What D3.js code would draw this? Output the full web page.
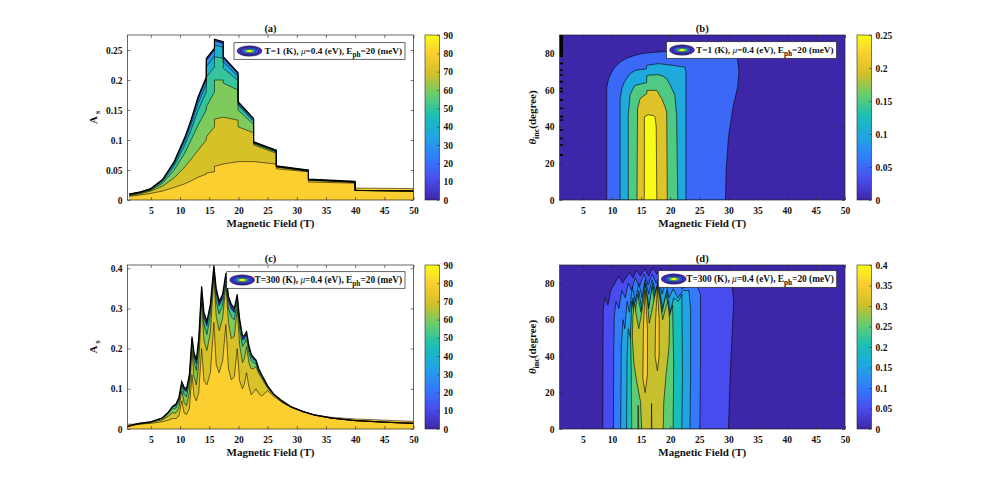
<!DOCTYPE html>
<html>
<head>
<meta charset="utf-8">
<script src="https://cdn.jsdelivr.net/npm/d3@7"></script>
<style>
body { margin: 0; background: #fff; }
text { font-family: "Liberation Serif", "Times New Roman", serif; font-weight: bold; }
</style>
</head>
<body>
<script>
// ---------- colormap (parula control points) ----------
const parulaStops = [0, 0.127, 0.254, 0.381, 0.508, 0.635, 0.762, 0.889, 1];
const parulaColors = ['#3e26a8', '#484df0', '#327cfc', '#20a5e3', '#19bfb6', '#64cd6f', '#d1bf27', '#fccf30', '#f9fb15'];
const parula = d3.scaleLinear().domain(parulaStops).range(parulaColors).clamp(true);

// ---------- panel (a): T = 1 K, A_s vs B for several angles ----------
const fieldA = [1.3, 3, 5, 7, 9, 10.8, 11.9, 13.1, 14.5, 14.5, 15.9, 15.9, 17.4, 17.4, 19.95, 19.95, 22.6, 22.6, 26.5, 26.5, 32, 32, 40, 40, 50];
const anglesA = [0, 30, 40, 50, 60, 70, 80];
const asA0  = [0.010, 0.013, 0.019, 0.034, 0.064, 0.104, 0.134, 0.172, 0.205, 0.236, 0.253, 0.268, 0.264, 0.239, 0.212, 0.164, 0.136, 0.097, 0.083, 0.057, 0.050, 0.035, 0.031, 0.016, 0.015];
const asA30 = [0.0098, 0.0128, 0.0187, 0.0335, 0.063, 0.102, 0.131, 0.168, 0.201, 0.232, 0.250, 0.265, 0.261, 0.236, 0.210, 0.162, 0.135, 0.096, 0.082, 0.056, 0.049, 0.034, 0.030, 0.016, 0.015];
const asA40 = [0.0095, 0.0125, 0.0183, 0.033, 0.061, 0.098, 0.126, 0.161, 0.193, 0.222, 0.240, 0.258, 0.255, 0.230, 0.206, 0.160, 0.133, 0.096, 0.082, 0.056, 0.049, 0.034, 0.030, 0.016, 0.015];
const asA50 = [0.009, 0.012, 0.0176, 0.031, 0.057, 0.091, 0.117, 0.150, 0.180, 0.205, 0.222, 0.239, 0.236, 0.220, 0.199, 0.158, 0.131, 0.095, 0.081, 0.056, 0.049, 0.034, 0.030, 0.016, 0.015];
const asA60 = [0.0085, 0.011, 0.0165, 0.028, 0.050, 0.078, 0.100, 0.125, 0.150, 0.155, 0.180, 0.200, 0.200, 0.195, 0.183, 0.150, 0.126, 0.094, 0.080, 0.055, 0.048, 0.033, 0.030, 0.016, 0.015];
const asA70 = [0.0075, 0.010, 0.015, 0.023, 0.037, 0.055, 0.068, 0.083, 0.100, 0.105, 0.122, 0.135, 0.138, 0.138, 0.133, 0.122, 0.112, 0.092, 0.078, 0.055, 0.048, 0.033, 0.029, 0.016, 0.015];
const asA80 = [0.006, 0.008, 0.011, 0.015, 0.021, 0.027, 0.032, 0.038, 0.043, 0.045, 0.047, 0.056, 0.060, 0.060, 0.064, 0.064, 0.064, 0.064, 0.060, 0.052, 0.047, 0.030, 0.028, 0.020, 0.019];

// ---------- panel (c): T = 300 K ----------
const fieldC = [1, 2, 3, 5, 7, 8, 8.7, 9.3, 9.8, 10.3, 10.7, 11.1, 11.6, 12.05, 12.4, 12.8, 13.2, 13.7, 14.1, 14.6, 15.2, 15.8, 16.2, 16.7, 17.3, 17.85, 18.3, 18.8, 19.3, 19.8, 20.2, 20.7, 21.0, 21.4, 21.8, 22.2, 22.6, 23.0, 23.5, 24, 25, 26, 27.5, 29, 31, 33, 36, 40, 45, 50];
const anglesC = [0, 50, 60, 70, 80];
const asC0  = [0.006, 0.011, 0.014, 0.018, 0.028, 0.042, 0.056, 0.062, 0.078, 0.118, 0.104, 0.100, 0.135, 0.230, 0.190, 0.172, 0.225, 0.355, 0.290, 0.268, 0.310, 0.407, 0.350, 0.318, 0.335, 0.388, 0.330, 0.310, 0.300, 0.335, 0.275, 0.232, 0.232, 0.242, 0.208, 0.186, 0.178, 0.172, 0.150, 0.135, 0.108, 0.088, 0.070, 0.056, 0.044, 0.035, 0.027, 0.021, 0.017, 0.014];
const asC50 = [0.006, 0.011, 0.014, 0.018, 0.027, 0.041, 0.054, 0.058, 0.073, 0.114, 0.097, 0.093, 0.128, 0.224, 0.180, 0.162, 0.215, 0.347, 0.278, 0.256, 0.300, 0.400, 0.338, 0.306, 0.325, 0.380, 0.318, 0.298, 0.290, 0.327, 0.265, 0.222, 0.224, 0.235, 0.200, 0.180, 0.173, 0.168, 0.147, 0.133, 0.106, 0.087, 0.069, 0.055, 0.044, 0.035, 0.027, 0.021, 0.017, 0.014];
const asC60 = [0.006, 0.010, 0.013, 0.017, 0.026, 0.038, 0.050, 0.052, 0.066, 0.108, 0.086, 0.080, 0.118, 0.215, 0.165, 0.146, 0.200, 0.335, 0.260, 0.235, 0.283, 0.390, 0.318, 0.286, 0.308, 0.368, 0.300, 0.278, 0.272, 0.315, 0.250, 0.205, 0.212, 0.225, 0.188, 0.170, 0.165, 0.162, 0.142, 0.130, 0.104, 0.086, 0.068, 0.055, 0.044, 0.035, 0.027, 0.021, 0.017, 0.014];
const asC70 = [0.006, 0.009, 0.012, 0.016, 0.023, 0.032, 0.040, 0.040, 0.052, 0.095, 0.066, 0.058, 0.090, 0.195, 0.130, 0.110, 0.160, 0.315, 0.220, 0.195, 0.240, 0.380, 0.280, 0.245, 0.275, 0.360, 0.265, 0.225, 0.230, 0.300, 0.210, 0.165, 0.175, 0.205, 0.165, 0.150, 0.150, 0.155, 0.138, 0.126, 0.102, 0.085, 0.067, 0.054, 0.043, 0.034, 0.027, 0.021, 0.017, 0.014];
const asC80 = [0.012, 0.012, 0.012, 0.014, 0.018, 0.022, 0.026, 0.026, 0.032, 0.070, 0.040, 0.036, 0.050, 0.135, 0.082, 0.070, 0.090, 0.200, 0.120, 0.110, 0.140, 0.265, 0.160, 0.140, 0.170, 0.260, 0.150, 0.122, 0.130, 0.200, 0.120, 0.100, 0.110, 0.140, 0.105, 0.085, 0.092, 0.100, 0.088, 0.082, 0.095, 0.082, 0.066, 0.054, 0.043, 0.035, 0.029, 0.025, 0.022, 0.019];

// ---------- panel (b): contour boundaries [B, theta] at T = 1 K ----------
const levelsB = [0.05, 0.1, 0.15, 0.2, 0.25];
const contourB05 = [[9.1, 0], [9.1, 61], [9.4, 66], [10, 70], [10.5, 72.5], [11.5, 75.5], [12.5, 77.3], [14, 79], [15.4, 80], [17.4, 80.6], [19.4, 81], [21, 81.2], [22.6, 80.5], [26, 79], [31.5, 78], [31.8, 70], [31.6, 62], [30.8, 51], [30, 34.5], [29.6, 16], [29.5, 0]];
const contourB10 = [[11.4, 0], [11.4, 55.3], [11.7, 60.7], [12.1, 64], [12.5, 66.2], [13.2, 69], [13.95, 70.7], [15.9, 71.5], [15.95, 73.5], [18, 74.4], [20.3, 73.5], [22.55, 72.5], [22.7, 70], [22.7, 0]];
const contourB15 = [[12.8, 0], [12.8, 46.2], [13.1, 57.1], [13.5, 60], [13.97, 62.6], [15.95, 64], [16, 68], [17.97, 68.4], [18.8, 67.5], [19.4, 66.2], [20.1, 62], [20.8, 57.1], [21.1, 46.2], [21.3, 0]];
const contourB20 = [[14.3, 0], [14.4, 49.8], [14.83, 55.3], [15.5, 57], [16, 58], [16, 59.8], [17.7, 59.8], [18.2, 57], [18.55, 55.3], [19.1, 51], [19.4, 48], [19.5, 0]];
const contourB25 = [[15.55, 0], [15.57, 45.3], [16.25, 46.5], [17.2, 46], [17.4, 45.3], [17.6, 40], [17.7, 0]];
const edgeMarksB = [[78, 90], [74, 75], [70.5, 71.3], [67.8, 68.6], [64, 65], [60.5, 61.3], [58.7, 59.5], [54, 55], [49.6, 50.4], [45, 46], [43.2, 44], [37.8, 38.6], [33.2, 34], [29.6, 30.4], [24, 25]];

// ---------- panel (d): contour boundaries [B, theta] at T = 300 K ----------
const contourD05 = [[8.43, 0], [8.45, 40], [8.5, 66], [8.8, 72], [9.3, 68], [9.8, 76], [10.5, 80], [11.2, 84], [11.8, 80], [12.4, 83], [13.0, 86], [13.6, 83], [14.2, 87], [14.9, 84], [15.6, 88], [16.3, 84], [17.0, 88.5], [17.7, 85], [18.4, 88], [19.2, 85], [20.0, 87], [20.8, 84], [21.6, 85], [22.5, 82], [24, 81], [27, 80], [30.6, 79], [30.9, 70], [30.6, 50], [30.3, 30], [30.1, 10], [30, 0]];
const contourD10 = [[10.25, 0], [10.3, 40], [10.4, 62], [10.7, 70], [11.2, 66], [11.7, 76], [12.3, 72], [12.8, 80], [13.4, 76], [14.0, 83], [14.7, 78], [15.5, 85], [16.2, 79], [16.9, 85], [17.6, 80], [18.3, 85], [19.0, 79], [19.7, 83], [20.4, 78], [21.2, 80], [22, 77], [23, 79], [24.5, 79], [25.2, 74], [25.2, 40], [25.1, 0]];
const contourD15 = [[11.5, 0], [11.6, 45], [11.9, 60], [12.2, 55], [12.6, 70], [13.0, 64], [13.5, 78], [14.0, 70], [14.6, 80], [15.2, 72], [15.7, 82], [16.3, 74], [16.9, 82], [17.5, 75], [18.0, 82], [18.6, 74], [19.2, 80], [19.8, 72], [20.5, 77], [21.3, 72], [22.2, 76], [23.2, 76], [23.5, 66], [23.5, 30], [23.4, 0]];
const contourD20 = [[12.5, 0], [12.6, 40], [12.8, 55], [13.2, 50], [13.6, 72], [14.1, 60], [14.6, 76], [15.2, 64], [15.7, 80], [16.4, 66], [17.0, 80], [17.6, 68], [18.0, 80], [18.7, 66], [19.4, 76], [20.0, 64], [20.6, 72], [21.4, 70], [22.0, 74], [22.1, 30], [22.0, 0]];
const contourD25 = [[13.4, 0], [13.3, 35], [13.2, 50], [13.4, 70], [13.9, 62], [14.4, 74], [15.0, 64], [15.6, 80], [16.3, 66], [16.9, 78], [17.5, 66], [17.9, 80], [18.6, 64], [19.3, 74], [19.9, 62], [20.4, 68], [20.6, 35], [20.5, 0]];
const contourD30 = [[15.1, 0], [14.9, 15], [14.3, 25], [13.8, 35], [13.5, 50], [13.6, 62], [13.8, 70], [14.2, 62], [14.6, 55], [15.0, 62], [15.4, 70], [15.7, 79], [16.1, 70], [16.4, 58], [16.8, 64], [17.3, 72], [17.8, 79], [18.3, 70], [18.7, 60], [19.2, 66], [19.6, 70], [19.9, 60], [19.8, 45], [19.3, 30], [18.9, 15], [18.8, 0]];
const contourD30c = [[14.45, 0], [14.5, 13], [14.6, 0]];
const contourD35 = [[15.3, 28], [15.4, 55], [15.7, 76], [16.1, 55], [16.1, 30], [15.7, 20]];
const contourD35b = [[17.4, 40], [17.5, 60], [17.8, 78], [18.1, 60], [18.1, 40], [17.8, 32]];
const contourD35c = [[16.75, 0], [16.8, 14], [16.85, 0]];

// ---------- ticks / labels ----------
const fieldTicks = [5, 10, 15, 20, 25, 30, 35, 40, 45, 50];
const asTicksA = [0, 0.05, 0.1, 0.15, 0.2, 0.25];
const asTicksC = [0, 0.1, 0.2, 0.3, 0.4];
const angleTicks = [0, 20, 40, 60, 80];
const cbAngleTicks = [0, 10, 20, 30, 40, 50, 60, 70, 80, 90];
const cbTicksB = [0, 0.05, 0.1, 0.15, 0.2, 0.25];
const cbTicksD = [0, 0.05, 0.1, 0.15, 0.2, 0.25, 0.3, 0.35, 0.4];
const temps = [1, 300];

// ---------- canvas ----------
const FONT = '"Liberation Serif", "Times New Roman", serif';
const svg = d3.select('body').append('svg').attr('width', 981).attr('height', 482);
const defs = svg.append('defs');

const xA = d3.scaleLinear().domain([1, 50]).range([127.5, 413.5]);
const yA = d3.scaleLinear().domain([0, 0.275]).range([200, 35]);
const yC = d3.scaleLinear().domain([0, 0.408]).range([429, 265]);
const xB = d3.scaleLinear().domain([1, 50]).range([559.5, 845]);
const yB = d3.scaleLinear().domain([0, 90]).range([200, 35]);
const yD = d3.scaleLinear().domain([0, 90]).range([429, 265]);

function plotGroup(id, x, y) {
  const [x0, x1] = x.range(), [yb, yt] = y.range();
  defs.append('clipPath').attr('id', id).append('rect')
    .attr('x', x0).attr('y', yt).attr('width', x1 - x0).attr('height', yb - yt);
  return svg.append('g').attr('clip-path', `url(#${id})`);
}

function drawAreas(g, x, y, field, angles, curves) {
  angles.forEach((th, i) => {
    g.append('path').datum(curves[i])
      .attr('fill', parula(th / 90))
      .attr('d', d3.area().x((d, j) => x(field[j])).y0(y(0)).y1(d => y(d)));
  });
  angles.forEach((th, i) => {
    g.append('path').datum(curves[i])
      .attr('fill', 'none').attr('stroke', '#000')
      .attr('stroke-width', i === 0 ? 1.2 : 0.55)
      .attr('d', d3.line().x((d, j) => x(field[j])).y(d => y(d)));
  });
}

function drawContours(g, x, y, regions, cmax) {
  const [x0, x1] = x.range(), [yb, yt] = y.range();
  g.append('rect').attr('x', x0).attr('y', yt).attr('width', x1 - x0).attr('height', yb - yt)
    .attr('fill', parula(0));
  const line = d3.line().x(d => x(d[0])).y(d => y(d[1]));
  regions.forEach(r => {
    g.append('path').datum(r.pts)
      .attr('fill', parula(r.level / cmax))
      .attr('stroke', '#000').attr('stroke-width', 0.6).attr('stroke-linejoin', 'round')
      .attr('d', d => line(d) + 'Z');
  });
}

function axes(x, y, yTicks, yFmt) {
  const [x0, x1] = x.range(), [yb, yt] = y.range();
  const g = svg.append('g');
  g.append('g').attr('transform', `translate(0,${yb})`)
    .call(d3.axisBottom(x).tickValues(fieldTicks).tickSize(-3).tickPadding(7));
  g.append('g').attr('transform', `translate(0,${yt})`)
    .call(d3.axisTop(x).tickValues(fieldTicks).tickSize(-3).tickFormat(''));
  g.append('g').attr('transform', `translate(${x0},0)`)
    .call(d3.axisLeft(y).tickValues(yTicks).tickSize(-3).tickPadding(5).tickFormat(yFmt));
  g.append('g').attr('transform', `translate(${x1},0)`)
    .call(d3.axisRight(y).tickValues(yTicks).tickSize(-3).tickFormat(''));
  g.selectAll('.domain').remove();
  g.selectAll('g').attr('font-size', 9.5).attr('font-family', FONT);
  g.selectAll('.tick line').attr('stroke', '#262626').attr('stroke-width', 0.6);
  g.selectAll('.tick text').attr('fill', '#111');
  g.append('rect').attr('x', x0).attr('y', yt).attr('width', x1 - x0).attr('height', yb - yt)
    .attr('fill', 'none').attr('stroke', '#262626').attr('stroke-width', 0.7);
  svg.append('text').attr('x', (x0 + x1) / 2).attr('y', yb + 26.5)
    .attr('text-anchor', 'middle').attr('font-size', 11).attr('fill', '#111')
    .text('Magnetic Field (T)');
}

function title(x, y, label) {
  const [x0, x1] = x.range();
  svg.append('text').attr('x', (x0 + x1) / 2).attr('y', y.range()[1] - 3)
    .attr('text-anchor', 'middle').attr('font-size', 10.5).attr('fill', '#111').text(label);
}

function yLabelAs(bx, y) {
  const cy = (y.range()[0] + y.range()[1]) / 2;
  const t = svg.append('text').attr('transform', `translate(${bx},${cy}) rotate(-90)`)
    .attr('text-anchor', 'middle').attr('font-size', 11).attr('fill', '#111');
  t.append('tspan').text('A');
  t.append('tspan').attr('dx', 2).attr('dy', 3).attr('font-size', 8).text('s');
}

function yLabelTheta(bx, y) {
  const cy = (y.range()[0] + y.range()[1]) / 2;
  const t = svg.append('text').attr('transform', `translate(${bx},${cy}) rotate(-90)`)
    .attr('text-anchor', 'middle').attr('font-size', 11).attr('fill', '#111');
  t.append('tspan').attr('font-style', 'italic').text('θ');
  t.append('tspan').attr('dy', 3).attr('font-size', 8).text('inc');
  t.append('tspan').attr('dy', -3).text('(degree)');
}

function colorbar(id, x0, cb, ticks, fmt) {
  const [yb, yt] = cb.range();
  const w = 14.5;
  const grad = defs.append('linearGradient').attr('id', id)
    .attr('x1', 0).attr('y1', 1).attr('x2', 0).attr('y2', 0);
  parulaStops.forEach((s, i) => grad.append('stop').attr('offset', s).attr('stop-color', parulaColors[i]));
  svg.append('rect').attr('x', x0).attr('y', yt).attr('width', w).attr('height', yb - yt)
    .attr('fill', `url(#${id})`).attr('stroke', '#262626').attr('stroke-width', 0.6);
  const g = svg.append('g').attr('transform', `translate(${x0 + w},0)`)
    .call(d3.axisRight(cb).tickValues(ticks).tickSize(-2.5).tickPadding(4).tickFormat(fmt));
  g.select('.domain').remove();
  g.attr('font-size', 9.5).attr('font-family', FONT);
  g.selectAll('.tick line').attr('stroke', '#262626').attr('stroke-width', 0.5);
  g.selectAll('.tick text').attr('fill', '#111');
}

function legend(x, y, w, h, textW, T) {
  const g = svg.append('g');
  g.append('rect').attr('x', x).attr('y', y).attr('width', w).attr('height', h)
    .attr('fill', '#fff').attr('stroke', '#262626').attr('stroke-width', 0.7);
  const cx = x + 15.5, cy = y + h / 2;
  [[12.5, 5.2, 0.03], [9, 3.8, 0.12], [6.2, 2.6, 0.45], [3.5, 1.6, 1]].forEach(e => {
    g.append('ellipse').attr('cx', cx).attr('cy', cy).attr('rx', e[0]).attr('ry', e[1])
      .attr('fill', parula(e[2])).attr('stroke', '#000').attr('stroke-width', 0.4);
  });
  const t = g.append('text').attr('x', x + w - 2.5 - textW).attr('y', cy + 3.2)
    .attr('font-size', 9.5).attr('fill', '#111');
  t.append('tspan').text(`T=${T} (K), `);
  t.append('tspan').attr('font-style', 'italic').attr('font-weight', 'normal').text('μ');
  t.append('tspan').text('=0.4 (eV), E');
  const sub = t.append('tspan').attr('dy', 2.5).attr('font-size', 7.5).text('ph');
  t.append('tspan').attr('dy', -2.5).text('=20 (meV)');
  const len = t.node().getComputedTextLength();
  const fs = 9.5 * textW / len;
  t.attr('font-size', fs);
  sub.attr('font-size', fs * 0.78);
}

const fmt = d3.format('~g');

// ---------- (a) ----------
const gA = plotGroup('clipA', xA, yA);
drawAreas(gA, xA, yA, fieldA, anglesA, [asA0, asA30, asA40, asA50, asA60, asA70, asA80]);
axes(xA, yA, asTicksA, fmt);
title(xA, yA, '(a)');
yLabelAs(97, yA);
colorbar('cbA', 425, d3.scaleLinear().domain([0, 90]).range([200, 35]), cbAngleTicks, fmt);
legend(234, 42.7, 171, 16.6, 138, temps[0]);

// ---------- (b) ----------
const gB = plotGroup('clipB', xB, yB);
drawContours(gB, xB, yB, [
  { level: levelsB[0], pts: contourB05 },
  { level: levelsB[1], pts: contourB10 },
  { level: levelsB[2], pts: contourB15 },
  { level: levelsB[3], pts: contourB20 },
  { level: levelsB[4], pts: contourB25 }
], 0.25);
gB.selectAll('.edge').data(edgeMarksB).join('rect').attr('class', 'edge')
  .attr('x', xB(1)).attr('width', xB(1.6) - xB(1))
  .attr('y', d => yB(d[1])).attr('height', d => yB(d[0]) - yB(d[1])).attr('fill', '#000');
axes(xB, yB, angleTicks, fmt);
title(xB, yB, '(b)');
yLabelTheta(535.5, yB);
colorbar('cbB', 857, d3.scaleLinear().domain([0, 0.25]).range([200, 35]), cbTicksB, fmt);
legend(666.5, 41.7, 170, 16.6, 138, temps[0]);

// ---------- (c) ----------
const gC = plotGroup('clipC', xA, yC);
drawAreas(gC, xA, yC, fieldC, anglesC, [asC0, asC50, asC60, asC70, asC80]);
axes(xA, yC, asTicksC, fmt);
title(xA, yC, '(c)');
yLabelAs(97, yC);
colorbar('cbC', 425, d3.scaleLinear().domain([0, 90]).range([429, 265]), cbAngleTicks, fmt);
legend(226.7, 271.7, 178.3, 16.6, 148, temps[1]);

// ---------- (d) ----------
const gD = plotGroup('clipD', xB, yD);
drawContours(gD, xB, yD, [
  { level: 0.05, pts: contourD05 },
  { level: 0.10, pts: contourD10 },
  { level: 0.15, pts: contourD15 },
  { level: 0.20, pts: contourD20 },
  { level: 0.25, pts: contourD25 },
  { level: 0.30, pts: contourD30 },
  { level: 0.30, pts: contourD30c },
  { level: 0.35, pts: contourD35 },
  { level: 0.35, pts: contourD35b },
  { level: 0.35, pts: contourD35c }
], 0.4);
axes(xB, yD, angleTicks, fmt);
title(xB, yD, '(d)');
yLabelTheta(535.5, yD);
colorbar('cbD', 857, d3.scaleLinear().domain([0, 0.4]).range([429, 265]), cbTicksD, fmt);
legend(658.3, 270.7, 178.4, 16.6, 148, temps[1]);
</script>
</body>
</html>
